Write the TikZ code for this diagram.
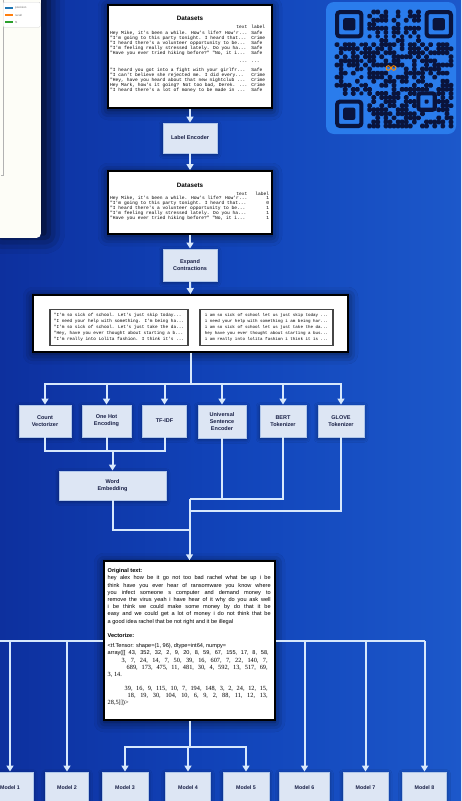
\documentclass[tikz,border=0pt]{standalone}
\usepackage{fontspec}
\setmainfont{Liberation Sans}
\newfontfamily\dsmono{Liberation Mono}
\newfontfamily\numserif{Liberation Serif}
\usetikzlibrary{arrows.meta,shadows.blur}
\definecolor{bgL}{RGB}{13,48,158}
\definecolor{bgM}{RGB}{17,68,186}
\definecolor{bgR}{RGB}{28,88,202}
\definecolor{lineC}{RGB}{215,232,252}
\definecolor{boxF}{RGB}{221,230,244}
\definecolor{boxB}{RGB}{175,198,234}
\definecolor{boxT}{RGB}{25,32,70}
\definecolor{qrbg}{RGB}{42,124,236}
\definecolor{qrdark}{RGB}{10,20,60}
\definecolor{panelF}{RGB}{253,253,247}
\definecolor{legblue}{RGB}{31,119,180}
\definecolor{legor}{RGB}{255,127,14}
\definecolor{leggr}{RGB}{44,160,44}
\begin{document}
\begin{tikzpicture}[x=1pt,y=-1pt,
  conn/.style={draw=lineC, line width=2pt, -{Triangle[width=7pt,length=6pt]}},
  wire/.style={draw=lineC, line width=2pt},
  proc/.style={draw=boxB, line width=0.9pt, fill=boxF, text=boxT,
    font=\fontsize{5.5}{6.8}\selectfont\bfseries, align=center, inner sep=0pt,
    blur shadow={shadow blur radius=4pt, shadow xshift=0pt, shadow yshift=-1.5pt, shadow opacity=45}},
  wbox/.style={draw=black, line width=1.8pt, fill=white, inner sep=0pt,
    blur shadow={shadow blur radius=10pt, shadow xshift=0pt, shadow yshift=-2pt, shadow opacity=70}},
  model/.style={proc, minimum height=32pt, font=\fontsize{5.3}{6}\selectfont\bfseries},
  dstext/.style={inner sep=0pt, font=\dsmono\fontsize{4.6}{4.85}\selectfont, text=black},
  title/.style={inner sep=0pt, font=\fontsize{6.3}{7}\selectfont\bfseries, text=black},
  legtext/.style={inner sep=0pt, anchor=west, font=\fontsize{2.8}{3}\selectfont, text=gray!80!black},
]
\useasboundingbox (0,0) rectangle (461,801);
\shade[left color=bgL, right color=bgR, middle color=bgM] (0,0) rectangle (461,801);

% ---------- left chart panel ----------
\node[fill=panelF, rounded corners=4pt, minimum width=50pt, minimum height=245pt, inner sep=0pt,
  anchor=south east, blur shadow={shadow blur radius=16pt, shadow xshift=8pt, shadow yshift=0pt, shadow opacity=80}] (panel) at (41,238) {};
\draw[gray!60, line width=0.4pt] (2.7,0) -- (2.7,175) -- (1,175);
\node[draw=gray!35, fill=white, rounded corners=1pt, minimum width=37pt, minimum height=25pt, inner sep=0pt, anchor=north west] (legend) at (3,2) {};
\draw[legblue, line width=1.3pt] (5,8) -- (13,8);
\draw[legor, line width=1.3pt] (5,15) -- (13,15);
\draw[leggr, line width=1.3pt] (5,22) -- (13,22);
\node[legtext] (lg1) at (15,8) {precision};
\node[legtext] (lg2) at (15,15) {recall};
\node[legtext] (lg3) at (15,22) {f1};

% ---------- QR code ----------
\node[fill=qrbg, rounded corners=8pt, minimum width=130pt, minimum height=132pt, inner sep=0pt] (qr) at (391,68) {};
\def\qs{4.07}
\begin{scope}[shift={(335,10)}]
  \pgfmathsetseed{4242}
  \foreach \i in {0,...,28}{
    \foreach \j in {0,...,28}{
      \pgfmathrandominteger{\qr}{0}{99}
      \pgfmathtruncatemacro{\qskip}{((\i<8)&&(\j<8)) || ((\i>20)&&(\j<8)) || ((\i<8)&&(\j>20)) || ((\i>19)&&(\i<25)&&(\j>19)&&(\j<25)) || ((\i>12)&&(\i<17)&&(\j>13)&&(\j<16)) || (\i==6) || (\j==6)}
      \ifnum\qskip=0 \ifnum\qr<56
        \fill[qrdark, rounded corners=1.3pt] (\i*\qs-0.3,\j*\qs-0.3) rectangle ++(\qs+0.6,\qs+0.6);
      \fi\fi
    }
  }
  \foreach \k in {8,10,...,20}{
    \fill[qrdark, rounded corners=1.3pt] (\k*\qs,6*\qs) rectangle ++(\qs,\qs);
    \fill[qrdark, rounded corners=1.3pt] (6*\qs,\k*\qs) rectangle ++(\qs,\qs);
  }
  \foreach \fx/\fy in {0/0,22/0,0/22}{
    \draw[qrdark, line width=\qs pt, rounded corners=3pt] (\fx*\qs+0.5*\qs,\fy*\qs+0.5*\qs) rectangle ++(6*\qs,6*\qs);
    \fill[qrdark, rounded corners=2pt] (\fx*\qs+2*\qs,\fy*\qs+2*\qs) rectangle ++(3*\qs,3*\qs);
  }
  \draw[qrdark, line width=\qs pt, rounded corners=2pt] (20.5*\qs,20.5*\qs) rectangle ++(4*\qs,4*\qs);
  \fill[qrdark, rounded corners=1pt] (22*\qs,22*\qs) rectangle ++(\qs,\qs);
\end{scope}
\draw[orange!90!yellow, line width=0.9pt] (388.3,68) circle (2.3pt) (393.7,68) circle (2.3pt);

% ---------- Datasets 1 ----------
\node[wbox, minimum width=164pt, minimum height=103pt] (ds1) at (190,56.5) {};
\node[title] (ds1t) at (190,18) {Datasets};
\node[dstext, anchor=north west] (ds1r) at (110,25) {%
\begin{tabular}{@{}l@{\hspace{4pt}}l@{}}
\hfill text & label\\[1.2pt]
Hey Mike, it's been a while. How's life? How'r... & Safe\\
"I'm going to this party tonight. I heard that... & Crime\\
"I heard there's a volunteer opportunity to be... & Safe\\
"I'm feeling really stressed lately. Do you ha... & Safe\\
"Have you ever tried hiking before?" "No, it i... & Safe\\[4pt]
\hfill ... & ...\\[4pt]
"I heard you got into a fight with your girlfr... & Safe\\
"I can't believe she rejected me. I did every... & Crime\\
"Hey, have you heard about that new nightclub ... & Crime\\
Hey Mark, how's it going? Not too bad, Derek. ... & Crime\\
"I heard there's a lot of money to be made in ... & Safe
\end{tabular}};

\node[proc, minimum width=54pt, minimum height=30pt] (le) at (190,138) {Label Encoder};

% ---------- Datasets 2 ----------
\node[wbox, minimum width=164pt, minimum height=63pt] (ds2) at (190,202.5) {};
\node[title] (ds2t) at (190,185) {Datasets};
\node[dstext, anchor=north west] (ds2r) at (110,191.5) {%
\begin{tabular}{@{}l@{\hspace{8pt}}r@{}}
\hfill text & label\\
Hey Mike, it's been a while. How's life? How'r... & 1\\
"I'm going to this party tonight. I heard that... & 0\\
"I heard there's a volunteer opportunity to be... & 1\\
"I'm feeling really stressed lately. Do you ha... & 1\\
"Have you ever tried hiking before?" "No, it i... & 1
\end{tabular}};

\node[proc, minimum width=54pt, minimum height=32pt] (ec) at (190,265) {Expand\\Contractions};

% ---------- cleaned text ----------
\node[wbox, minimum width=315pt, minimum height=57pt] (wide) at (190.5,323.5) {};
\node[dstext, draw=gray!55!black, line width=1.1pt, fill=white, minimum width=138pt, minimum height=36pt, align=left,
  font=\dsmono\fontsize{4.4}{5.9}\selectfont] (inL) at (119,327.5) {%
"I'm so sick of school. Let's just skip today...\\
"I need your help with something. I'm being ha...\\
"I'm so sick of school. Let's just take the da...\\
"Hey, have you ever thought about starting a b...\\
"I'm really into Lolita fashion. I think it's ...};
\node[dstext, draw=gray!55!black, line width=1.1pt, fill=white, minimum width=133pt, minimum height=36pt, align=left,
  font=\dsmono\fontsize{4.2}{5.9}\selectfont] (inR) at (266.5,327.5) {%
i am so sick of school let us just skip today ...\\
i need your help with something i am being har...\\
i am so sick of school let us just take the da...\\
hey have you ever thought about starting a bus...\\
i am really into lolita fashion i think it is ...};

% ---------- vectorizers ----------
\node[proc, minimum width=52pt, minimum height=32pt] (cv) at (45,421) {Count\\Vectorizer};
\node[proc, minimum width=49pt, minimum height=32pt] (oh) at (106.5,421) {One Hot\\Encoding};
\node[proc, minimum width=44pt, minimum height=32pt] (tf) at (164.5,421) {TF-IDF};
\node[proc, minimum width=48pt, minimum height=33pt] (use) at (222,421.5) {Universal\\Sentence\\Encoder};
\node[proc, minimum width=46pt, minimum height=32pt] (bert) at (283,421) {BERT\\Tokenizer};
\node[proc, minimum width=46pt, minimum height=32pt] (glove) at (341,421) {GLOVE\\Tokenizer};
\node[proc, minimum width=107pt, minimum height=29pt] (we) at (112.5,485.5) {Word\\Embedding};

% ---------- vectorized example ----------
\node[wbox, line width=1.5pt, minimum width=171pt, minimum height=159pt] (vec) at (189.5,640.5) {};
\node[anchor=north west, inner sep=0pt, align=left, font=\fontsize{5.6}{7.2}\selectfont, text=black] (vect) at (107.5,568.5) {%
\textbf{Original text:}\\
\makebox[163pt][s]{hey alex how be it go not too bad rachel what be up i be}\\
\makebox[163pt][s]{think have you ever hear of ransomware you know where}\\
\makebox[163pt][s]{you infect someone s computer and demand money to}\\
\makebox[163pt][s]{remove the virus yeah i have hear of it why do you ask well}\\
\makebox[163pt][s]{i be think we could make some money by do that it be}\\
\makebox[163pt][s]{easy and we could get a lot of money i do not think that be}\\
a good idea rachel that be not right and it be illegal\\[7.4pt]
\textbf{Vectorize:}\\[2.8pt]
<tf.Tensor: shape=(1, 96), dtype=int64, numpy=\\
\makebox[161pt][s]{array([[ 43, 352, 32, 2, 9, 20, 8, 59, 67, 155, 17, 8, 58,}\\
{\numserif\fontsize{6.3}{7.2}\selectfont\hspace*{14pt}\makebox[146pt][s]{3, 7, 24, 14, 7, 50, 39, 16, 607, 7, 22, 140, 7,}}\\
{\numserif\fontsize{6.3}{7.2}\selectfont\hspace*{19pt}\makebox[141pt][s]{689, 173, 475, 11, 481, 30, 4, 592, 13, 517, 69,}}\\
{\numserif\fontsize{6.3}{7.2}\selectfont 3, 14.}\\[6.8pt]
{\numserif\fontsize{6.3}{7.2}\selectfont\hspace*{17pt}\makebox[143pt][s]{39, 16, 9, 115, 10, 7, 194, 148, 3, 2, 24, 12, 15,}}\\
{\numserif\fontsize{6.3}{7.2}\selectfont\hspace*{20pt}\makebox[140pt][s]{18, 19, 30, 104, 10, 6, 9, 2, 88, 11, 12, 13,}}\\
{\numserif\fontsize{6.3}{7.2}\selectfont 28,5]])>}};

% ---------- models ----------
\node[model, minimum width=46pt] (m1) at (10,788) {Model 1};
\node[model, minimum width=43pt] (m2) at (67,788) {Model 2};
\node[model, minimum width=46pt] (m3) at (125,788) {Model 3};
\node[model, minimum width=45pt] (m4) at (188,788) {Model 4};
\node[model, minimum width=46pt] (m5) at (246,788) {Model 5};
\node[model, minimum width=50pt] (m6) at (304.5,788) {Model 6};
\node[model, minimum width=45pt] (m7) at (365.5,788) {Model 7};
\node[model, minimum width=44pt] (m8) at (424.5,788) {Model 8};

% ---------- connectors ----------
\draw[conn] (ds1.south) -- (le.north);
\draw[conn] (le.south) -- (ds2.north);
\draw[conn] (ds2.south) -- (ec.north);
\draw[conn] (ec.south) -- (wide.north);

\coordinate (busA) at (190.5,384);
\draw[wire] (wide.south) -- (busA);
\foreach \n in {cv,oh,tf,use,bert,glove}{\draw[conn] (busA) -| (\n.north);}

\coordinate (jA) at (112.5,451);
\draw[wire] (cv.south) |- (jA);
\draw[wire] (tf.south) |- (jA);
\draw[wire] (oh.south) -- (oh.south |- jA);
\draw[conn] (jA) -- (we.north);

\coordinate (jB) at (189.5,499);
\coordinate (jC) at (189.5,511);
\coordinate (jD) at (189.5,530);
\draw[wire] (use.south) |- (jB);
\draw[wire] (bert.south) |- (jB);
\draw[wire] (glove.south) |- (jC);
\draw[wire] (we.south) |- (jD);
\draw[conn] (jB) -- (vec.north);

\coordinate (jE) at (189.5,747);
\draw[wire] (vec.south) -- (jE);
\foreach \n in {m3,m4,m5}{\draw[conn] (jE) -| (\n.north);}

\coordinate (lft) at (0,641);
\draw[wire] (lft) -- (vec.west |- lft);
\draw[wire] (vec.east |- lft) -- (m8.north |- lft);
\foreach \n in {m1,m2,m6,m7,m8}{\draw[conn] (\n.north |- lft) -- (\n.north);}
\end{tikzpicture}
\end{document}
